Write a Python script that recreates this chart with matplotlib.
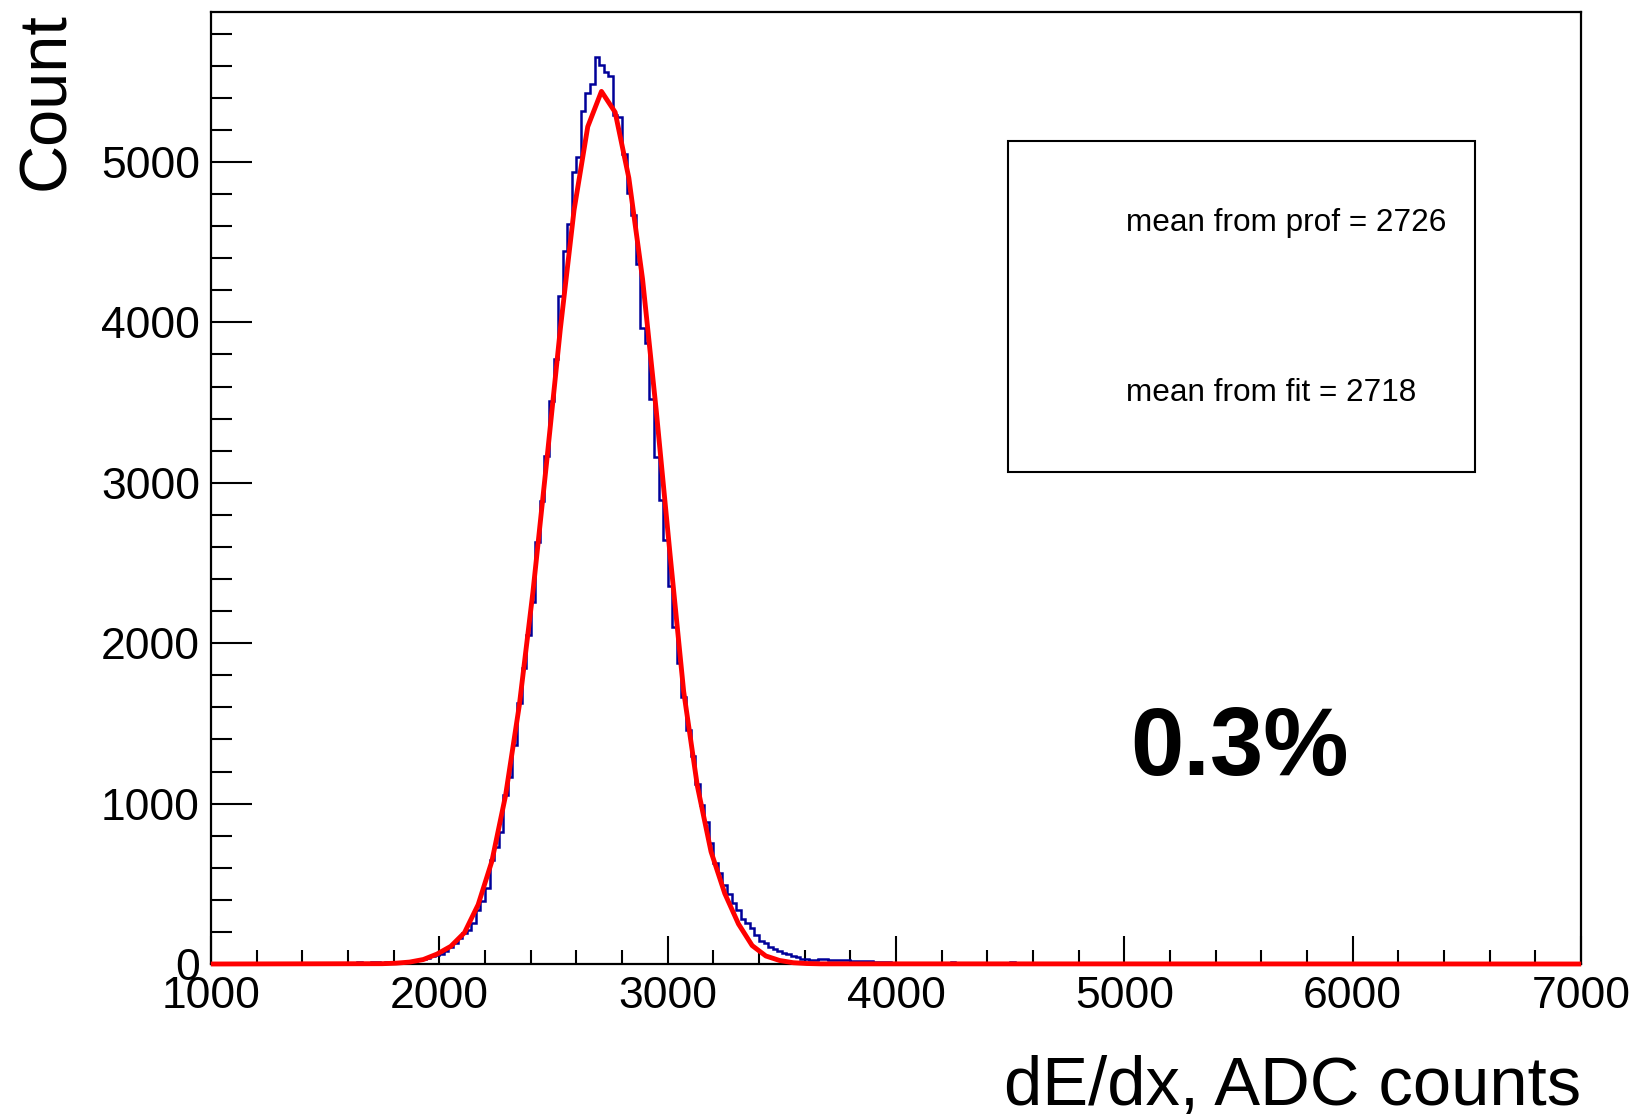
import numpy as np
import matplotlib
matplotlib.use("Agg")
import matplotlib.pyplot as plt
from matplotlib.ticker import MultipleLocator

plt.rcParams['font.family'] = ['Liberation Sans', 'DejaVu Sans']

# histogram, 20 ADC bins starting at 1600
bin_start = 1600
bin_width = 20
counts = [0, 5, 12, 5, 3, 10, 12, 8, 12, 6,
          5, 8, 15, 18, 20, 28, 33, 40, 50, 55,
          65, 80, 105, 130, 165, 195, 215, 254, 337, 395,
          472, 648, 731, 825, 1054, 1168, 1365, 1625, 1843, 2051,
          2259, 2633, 2885, 3167, 3510, 3770, 4165, 4443, 4611, 4940,
          5033, 5318, 5428, 5486, 5657, 5605, 5563, 5536, 5295, 5280,
          5050, 4805, 4670, 4364, 3963, 3870, 3520, 3159, 2895, 2643,
          2357, 2099, 1879, 1667, 1459, 1297, 1122, 991, 887, 752,
          628, 565, 493, 436, 378, 335, 280, 258, 222, 181,
          143, 129, 108, 94, 81, 70, 62, 50, 42, 33,
          29, 28, 27, 33, 30, 25, 24, 22, 22, 24,
          20, 20, 18, 18, 16, 15, 15, 14, 14, 5]
tail_x = [4240, 4500]
tail_counts = [12, 12]

# fit curve as drawn (polyline vertices)
fit_x = [1010, 1750, 1810, 1870, 1930, 1990, 2050, 2110, 2170, 2230, 2290,
         2350, 2410, 2470, 2530, 2590, 2650, 2710, 2770, 2830, 2890,
         2950, 3010, 3070, 3130, 3190, 3250, 3310, 3370, 3430, 3490,
         3550, 3610, 3670, 6990]
fit_y = [0, 2, 5, 12, 28, 62, 110, 195, 370, 640, 1050,
         1610, 2320, 3130, 3960, 4700, 5220, 5440, 5310, 4900, 4270,
         3450, 2560, 1700, 1110, 700, 440, 250, 115, 50, 22,
         8, 3, 1, 0]

mean_prof = 2726
mean_fit = 2718
ratio_text = "0.3%"

xmin, xmax = 1000, 7000
edges = np.arange(xmin, xmax + bin_width, bin_width)
full = np.zeros(len(edges) - 1)
i0 = (bin_start - xmin) // bin_width
full[i0:i0 + len(counts)] = counts
for x, c in zip(tail_x, tail_counts):
    full[(x - xmin) // bin_width] = c

fig = plt.figure(figsize=(16.37, 11.16), dpi=100)
ax = fig.add_axes([211/1637, 1 - 964/1116, (1581 - 211)/1637, (964 - 12)/1116])

ax.stairs(full, edges, color='#000099', lw=1.8, zorder=2)
ax.plot(fit_x, fit_y, color='#ff0000', lw=3.5, zorder=3, clip_on=False)

ax.set_xlim(xmin, xmax)
ax.set_ylim(0, 5935)
ax.xaxis.set_major_locator(MultipleLocator(1000))
ax.xaxis.set_minor_locator(MultipleLocator(200))
ax.yaxis.set_major_locator(MultipleLocator(1000))
ax.yaxis.set_minor_locator(MultipleLocator(200))
ax.tick_params(which='both', direction='in', top=False, right=False, width=1.5, labelsize=32)
ax.tick_params(axis='x', which='major', length=20, pad=9)
ax.tick_params(axis='x', which='minor', length=10)
ax.tick_params(axis='y', which='major', length=29.5, pad=8)
ax.tick_params(axis='y', which='minor', length=14.8)
for s in ax.spines.values():
    s.set_linewidth(1.6)

fig.text(1581/1637, 1 - 1105/1116, "dE/dx, ADC counts", fontsize=49.5, ha='right', va='baseline')
fig.text(16/1637, 1 - 12/1116, "Count", fontsize=48, rotation=90, ha='left', va='top')

box = plt.Rectangle((1008/1637, 1 - 472/1116), (1475 - 1008)/1637, (472 - 141)/1116,
                    transform=fig.transFigure, fill=False, lw=1.5, color='black')
fig.add_artist(box)
fig.text(1126/1637, 1 - 231/1116, "mean from prof = %d" % mean_prof, fontsize=22.7, va='baseline')
fig.text(1126/1637, 1 - 401/1116, "mean from fit = %d" % mean_fit, fontsize=22.7, va='baseline')
fig.text(1130/1637, 1 - 775/1116, ratio_text, fontsize=69, fontweight='bold', va='baseline')

fig.savefig("out.png", dpi=100)
